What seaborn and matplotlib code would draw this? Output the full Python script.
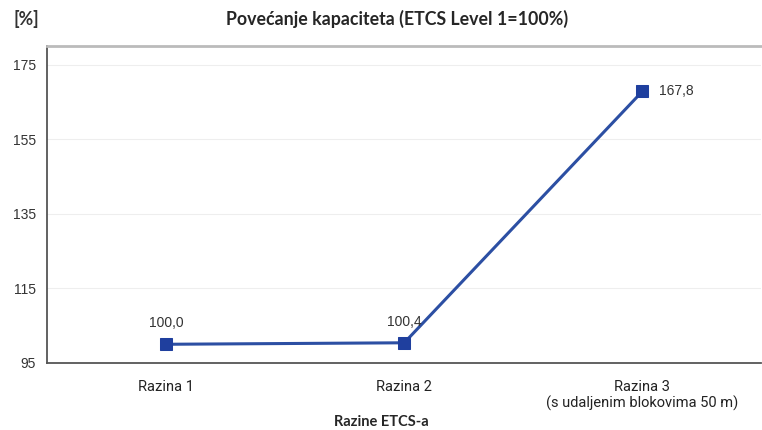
import matplotlib
matplotlib.use("Agg")
import matplotlib.pyplot as plt
import seaborn as sns
import pandas as pd

# podaci
categories = ["Razina 1", "Razina 2", "Razina 3\n(s udaljenim blokovima 50 m)"]
capacity = [100.0, 100.4, 167.8]
value_labels = ["100,0", "100,4", "167,8"]
y_ticks = [95, 115, 135, 155, 175]

sns.set_style("white")
plt.rcParams['font.family'] = ['Lato', 'DejaVu Sans']

df = pd.DataFrame({"razina": categories, "kapacitet": capacity})

fig = plt.figure(figsize=(7.62, 4.30), dpi=100)
ax = fig.add_axes([0.062, 0.156, 0.937, 0.737])

sns.lineplot(data=df, x="razina", y="kapacitet", ax=ax, sort=False,
             color="#2c4fa3", linewidth=2.2, marker="s", markersize=9,
             markerfacecolor="#1f3f9e", markeredgecolor="#1f3f9e")

ax.set_xlim(-0.5, 2.5)
ax.set_ylim(95, 180)
ax.set_yticks(y_ticks)
ax.set_yticklabels([str(t) for t in y_ticks], fontfamily="Liberation Sans",
                   fontsize=10, color="#333333")
ax.set_xticks(range(len(categories)))
ax.set_xticklabels(categories, fontsize=10.5, color="#222222", fontfamily="Roboto")
# kratke crtice izmedu kategorija
ax.set_xticks([0.5, 1.5], minor=True)
ax.tick_params(axis="x", which="major", length=0, pad=12)
ax.tick_params(axis="x", which="minor", length=4, width=1.2, color="#555555", direction="inout")
ax.tick_params(axis="y", length=4, width=1, color="#555555", direction="inout", pad=6)

ax.grid(axis="y", color="#eeeeee", linewidth=0.8)
ax.set_axisbelow(True)
for s in ["left", "bottom"]:
    ax.spines[s].set_color("#555555")
    ax.spines[s].set_linewidth(1.3)
ax.spines["top"].set_color("#bbbbbb")
ax.spines["top"].set_linewidth(2)
ax.spines["right"].set_visible(False)

for i, (v, lab) in enumerate(zip(capacity, value_labels)):
    if i == len(capacity) - 1:
        ax.annotate(lab, (i, v), xytext=(12, 0), textcoords="offset points",
                    ha="left", va="center", fontsize=10, color="#333333",
                    fontfamily="Liberation Sans")
    else:
        ax.annotate(lab, (i, v), xytext=(0, 10), textcoords="offset points",
                    ha="center", va="bottom", fontsize=10, color="#333333",
                    fontfamily="Liberation Sans")

ax.set_xlabel("")
ax.set_ylabel("")
fig.text(0.500, 0.018, "Razine ETCS-a", ha="center", va="center",
         fontsize=10.5, fontweight="bold")

fig.text(0.521, 0.955, "Povećanje kapaciteta (ETCS Level 1=100%)", ha="center",
         va="center", fontsize=12.8, fontweight="bold")
fig.text(0.018, 0.955, "[%]", ha="left", va="center", fontsize=12.8,
         fontweight="bold", color="#333333")

fig.savefig("out.png", dpi=100)
